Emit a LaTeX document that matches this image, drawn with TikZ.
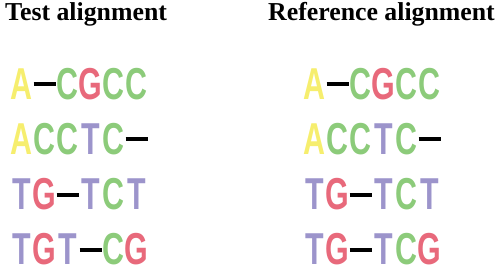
\documentclass[tikz,border=0pt]{standalone}
\usepackage{fontspec}
\setmainfont{Liberation Serif}
\newfontfamily\basefont{Liberation Sans}

\definecolor{colA}{HTML}{F6EE6E}
\definecolor{colC}{HTML}{8CCB7A}
\definecolor{colG}{HTML}{E8697B}
\definecolor{colT}{HTML}{9C94CB}

% narrow letters, like the condensed font of the sequences
\newcommand\nucglyph[1]{\scalebox{0.68}[1]{#1}}

\tikzset{
	title/.style={anchor=base west,inner sep=0pt,font=\bfseries\fontsize{25.8}{28}\selectfont},
	nuc/.style={anchor=base,inner sep=0pt,font=\basefont\bfseries\fontsize{44.7}{48}\selectfont},
	nucA/.style={nuc,text=colA,node contents={\nucglyph{A}}},
	nucC/.style={nuc,text=colC,node contents={\nucglyph{C}}},
	nucG/.style={nuc,text=colG,node contents={\nucglyph{G}}},
	nucT/.style={nuc,text=colT,node contents={\nucglyph{T}}},
	nucX/.style={nuc,text=black,node contents={\rule[13pt]{22pt}{4pt}}}
}

\begin{document}
\begin{tikzpicture}[x=1pt,y=-1pt]
	\useasboundingbox (0,0) rectangle (500,270);
	
	\node (testtitle) at (5,21) [title] {Test alignment};
	\node (reftitle) at (268,21) [title] {Reference alignment};
	
	% test alignment
	\foreach \seq [count=\r, evaluate=\r as \ybase using 99+55.3*(\r-1)] in
		{{A,X,C,G,C,C},{A,C,C,T,C,X},{T,G,X,T,C,T},{T,G,T,X,C,G}}
		\foreach \b [count=\i] in \seq
			\node (test-\r-\i) at (21.5+23*\i-23,\ybase) [nuc\b];
	
	% reference alignment
	\foreach \seq [count=\r, evaluate=\r as \ybase using 99+55.3*(\r-1)] in
		{{A,X,C,G,C,C},{A,C,C,T,C,X},{T,G,X,T,C,T},{T,G,X,T,C,G}}
		\foreach \b [count=\i] in \seq
			\node (ref-\r-\i) at (314.5+23*\i-23,\ybase) [nuc\b];
	
\end{tikzpicture}
\end{document}
